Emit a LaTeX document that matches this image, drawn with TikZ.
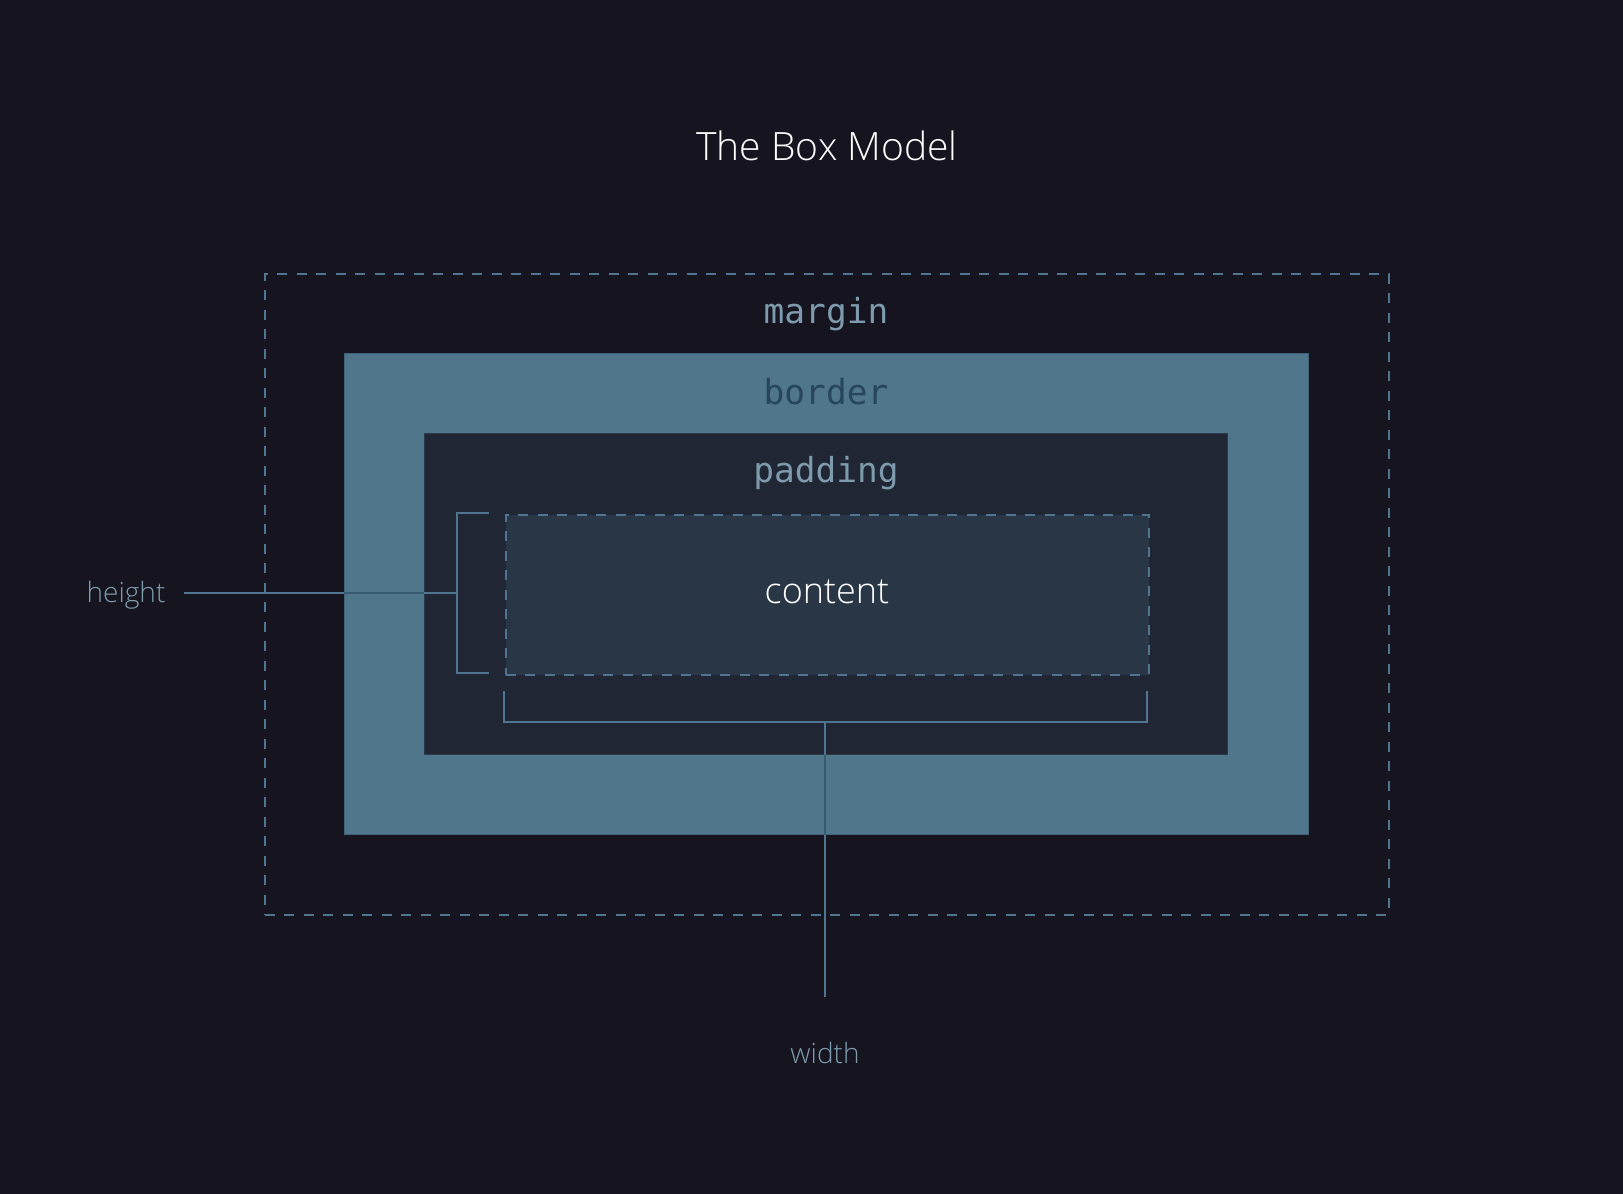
\documentclass[tikz,border=0pt]{standalone}
\usepackage{fontspec}
\setmainfont{Open Sans}[UprightFont=* Light]
\setmonofont{DejaVu Sans Mono}
\usetikzlibrary{positioning}

\definecolor{bgcol}{HTML}{15141F}
\definecolor{bordercol}{HTML}{50768C}
\definecolor{paddingcol}{HTML}{202633}
\definecolor{contentcol}{HTML}{293645}
\definecolor{linecol}{HTML}{4F7590}
\definecolor{linedark}{HTML}{385A72}
\definecolor{labelcol}{HTML}{7E9BAD}
\definecolor{borderlabel}{HTML}{27465E}

\tikzset{
  layer/.style={rectangle, inner sep=0pt, anchor=north west},
  dashbox/.style={draw=linecol, line width=1.8pt, dash pattern=on 10pt off 9.5pt},
  codelabel/.style={font=\ttfamily\fontsize{34.5}{40}\selectfont, anchor=base, inner sep=0pt},
  dimlabel/.style={font=\fontsize{28}{34}\selectfont, text=labelcol, anchor=base, inner sep=0pt},
  guide/.style={draw=linecol, line width=1.6pt},
}

\begin{document}
\begin{tikzpicture}[x=1pt, y=-1pt]
  % canvas
  \fill[bgcol] (0,0) rectangle (1623,1194);
  \useasboundingbox (0,0) rectangle (1623,1194);

  % title
  \node[font=\fontsize{39}{46}\selectfont, text=white, anchor=base, inner sep=0pt]
    (title) at (827,160) {The Box Model};

  % nested boxes
  \node[layer, dashbox, minimum width=1124pt, minimum height=641pt] (margin) at (264,273) {};
  \node[layer, fill=bordercol, draw=linedark!70!bordercol, line width=0.8pt,
        minimum width=964pt, minimum height=481pt] (border) at (344,353) {};
  \node[layer, fill=paddingcol, draw=linedark!40!paddingcol, line width=0.8pt,
        minimum width=803pt, minimum height=321pt] (padding) at (424,433) {};
  \node[layer, fill=contentcol, dashbox, minimum width=643pt, minimum height=160pt] (content) at (505,514) {};

  % layer names
  \node[codelabel, text=labelcol] (marginlbl) at (826,323) {margin};
  \node[codelabel, text=borderlabel] (borderlbl) at (826,404) {border};
  \node[codelabel, text=labelcol] (paddinglbl) at (826,482) {padding};
  \node[font=\fontsize{36}{43}\selectfont, text=white, anchor=base, inner sep=0pt]
    (contentlbl) at (827,603) {content};

  % height bracket and guide
  \coordinate (hbt) at (489,513);
  \coordinate (hbb) at (489,673);
  \coordinate (hmid) at (457,593);
  \coordinate (hstart) at (184,593);
  \node[dimlabel] (heightlbl) at (126,602) {height};
  \draw[guide] (hbt) -- (457,513) -- (457,673) -- (hbb);
  \draw[guide] (hstart) -- (hmid);

  % width bracket and guide
  \coordinate (wbl) at (504,691);
  \coordinate (wbr) at (1147,691);
  \coordinate (wmid) at (825,722);
  \coordinate (wend) at (825,997);
  \node[dimlabel] (widthlbl) at (825,1063) {width};
  \draw[guide] (wbl) -- (504,722) -- (1147,722) -- (wbr);
  \draw[guide] (wmid) -- (wend);

  % guides read darker where they cross the border band
  \begin{scope}
    \clip (border.north west) rectangle (border.south east);
    \draw[guide, draw=linedark] (hstart) -- (padding.west |- hmid);
    \draw[guide, draw=linedark] (padding.south -| wmid) -- (wend);
  \end{scope}
\end{tikzpicture}
\end{document}
